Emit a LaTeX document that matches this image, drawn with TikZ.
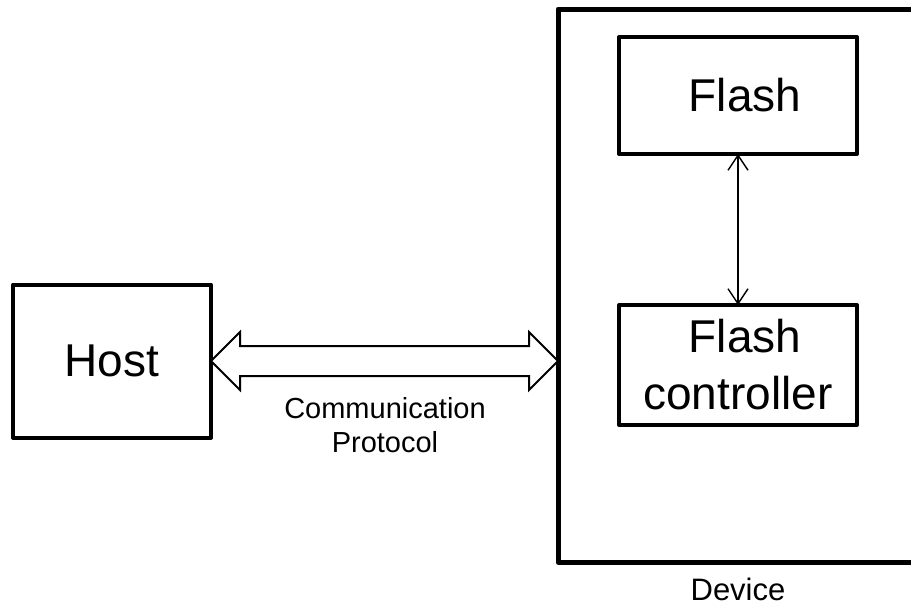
\documentclass[tikz,border=0pt]{standalone}
\usepackage{fontspec}
\setmainfont{Liberation Sans}
\usetikzlibrary{arrows.meta,calc}

\tikzset{
  box/.style={draw=black, line width=4pt, line join=round, outer sep=0pt,
    inner sep=0pt, align=center, font=\fontsize{46}{56}\selectfont},
  frame/.style={draw=black, line width=5pt, line join=round, outer sep=0pt},
  caption/.style={inner sep=0pt, align=center},
  hollow/.style={draw=black, line width=2pt, line join=miter, fill=white},
  link/.style={draw=black, line width=1.4pt,
    {Straight Barb[length=15pt,width=20pt]}-{Straight Barb[length=15pt,width=20pt]}}
}

\begin{document}
\begin{tikzpicture}[x=1pt, y=-1pt]
  \path[use as bounding box] (0,0) rectangle (911,606);
  \clip (0,0) rectangle (911,606);

  % outer device enclosure (its right side runs off the sheet)
  \node[frame, minimum width=442pt, minimum height=553pt] (device) at (779,285.5) {};
  \node[caption, font=\fontsize{31}{36}\selectfont] (devlabel) at (738,589.5) {Device};

  % host and the two blocks inside the device
  \node[box, minimum width=198pt, minimum height=153pt] (host) at (112,361) {Host};
  \node[box, minimum width=238pt, minimum height=117pt] (flash) at (738,95.5) {\hspace*{14pt}Flash};
  \node[box, minimum width=238pt, minimum height=120pt] (ctrl) at (738,365)
    {\hspace*{14pt}Flash\\[1pt]controller};

  % bidirectional link between flash and controller
  \draw[link] (flash.south) -- (ctrl.north);

  % hollow two-headed arrow for the host interface
  \coordinate (tipR) at (device.west |- host.east);
  \draw[hollow] (host.east) -- ++(29,-29) -- ++(0,14)
    -- ($(tipR)+(-29,-15)$) -- ++(0,-14) -- (tipR) -- ++(-29,29) -- ++(0,-14)
    -- ($(host.east)+(29,15)$) -- ++(0,14) -- cycle;

  \node[caption, font=\fontsize{29}{34}\selectfont] (proto) at (385,425)
    {Communication\\Protocol};
\end{tikzpicture}
\end{document}
